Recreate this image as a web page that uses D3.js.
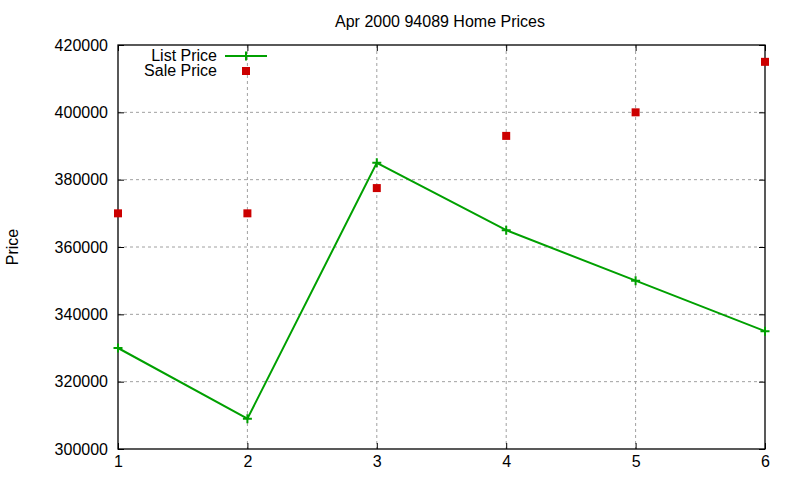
<!DOCTYPE html>
<html>
<head>
<meta charset="utf-8">
<script src="https://cdn.jsdelivr.net/npm/d3@7"></script>
<style>
  body { margin: 0; background: #fff; }
  text { font-family: "Liberation Sans", Arial, sans-serif; fill: #000; }
</style>
</head>
<body>
<svg id="chart"></svg>
<script>
// data
const months = [1, 2, 3, 4, 5, 6];
const listPrice = [330000, 309000, 385000, 365000, 350000, 335000];
const salePrice = [370000, 370000, 377500, 393000, 400000, 415000];
const yTicks = [300000, 320000, 340000, 360000, 380000, 400000, 420000];

const width = 800, height = 480;
const margin = { top: 45, right: 35, bottom: 31, left: 118 };
const innerW = width - margin.left - margin.right;
const innerH = height - margin.top - margin.bottom;
const fontSize = '16px';

const svg = d3.select('#chart')
    .attr('width', width)
    .attr('height', height);

const chart = svg.append('g')
    .attr('transform', `translate(${margin.left},${margin.top})`);

const xScale = d3.scaleLinear().domain([1, 6]).range([0, innerW]);
const yScale = d3.scaleLinear().domain([300000, 420000]).range([innerH, 0]);

// grid
chart.append('g').selectAll('line')
    .data(months.slice(1, -1))
    .join('line')
    .attr('x1', d => xScale(d)).attr('x2', d => xScale(d))
    .attr('y1', 0).attr('y2', innerH)
    .attr('stroke', '#a0a0a0').attr('stroke-dasharray', '3,3');

chart.append('g').selectAll('line')
    .data(yTicks.slice(1, -1))
    .join('line')
    .attr('x1', 0).attr('x2', innerW)
    .attr('y1', d => yScale(d)).attr('y2', d => yScale(d))
    .attr('stroke', '#a0a0a0').attr('stroke-dasharray', '3,3');

// axes (ticks pointing inward, mirrored)
const fmt = d3.format('d');
const axisStyle = g => {
    g.select('.domain').remove();
    g.selectAll('line').attr('stroke', '#000');
    g.selectAll('text').style('font-size', fontSize).style('font-family', '"Liberation Sans", Arial, sans-serif');
};

chart.append('g')
    .attr('transform', `translate(0,${innerH})`)
    .call(d3.axisBottom(xScale).tickValues(months).tickFormat(fmt).tickSizeInner(-6).tickPadding(7))
    .call(axisStyle);

chart.append('g')
    .call(d3.axisTop(xScale).tickValues(months).tickFormat('').tickSizeInner(-6))
    .call(axisStyle);

chart.append('g')
    .call(d3.axisLeft(yScale).tickValues(yTicks).tickFormat(fmt).tickSizeInner(-6).tickPadding(10))
    .call(axisStyle);

chart.append('g')
    .attr('transform', `translate(${innerW},0)`)
    .call(d3.axisRight(yScale).tickValues(yTicks).tickFormat('').tickSizeInner(-6))
    .call(axisStyle);

// border
chart.append('rect')
    .attr('width', innerW).attr('height', innerH)
    .attr('fill', 'none').attr('stroke', '#000').attr('stroke-width', 1.3);

// list price line
const listData = months.map((m, i) => ({ x: m, y: listPrice[i] }));
const line = d3.line().x(d => xScale(d.x)).y(d => yScale(d.y));

chart.append('path')
    .datum(listData)
    .attr('fill', 'none')
    .attr('stroke', '#00a000')
    .attr('stroke-width', 2)
    .attr('d', line);

chart.selectAll('.plus')
    .data(listData)
    .join('path')
    .attr('class', 'plus')
    .attr('transform', d => `translate(${xScale(d.x)},${yScale(d.y)})`)
    .attr('d', 'M-4.5,0H4.5M0,-4.5V4.5')
    .attr('stroke', '#00a000')
    .attr('stroke-width', 2);

// sale price points
chart.selectAll('.sale')
    .data(months.map((m, i) => ({ x: m, y: salePrice[i] })))
    .join('rect')
    .attr('class', 'sale')
    .attr('x', d => xScale(d.x) - 4)
    .attr('y', d => yScale(d.y) - 4)
    .attr('width', 8).attr('height', 8)
    .attr('fill', '#cc0000');

// legend
const legend = svg.append('g').attr('transform', 'translate(217,56)');
legend.append('text')
    .attr('text-anchor', 'end').attr('dy', '0.32em')
    .style('font-size', fontSize)
    .text('List Price');
legend.append('line')
    .attr('x1', 8).attr('x2', 50)
    .attr('stroke', '#00a000').attr('stroke-width', 2);
legend.append('path')
    .attr('transform', 'translate(29,0)')
    .attr('d', 'M-4.5,0H4.5M0,-4.5V4.5')
    .attr('stroke', '#00a000').attr('stroke-width', 2);
legend.append('text')
    .attr('y', 15).attr('text-anchor', 'end').attr('dy', '0.32em')
    .style('font-size', fontSize)
    .text('Sale Price');
legend.append('rect')
    .attr('x', 25).attr('y', 11)
    .attr('width', 8).attr('height', 8)
    .attr('fill', '#cc0000');

// title
svg.append('text')
    .attr('x', 440).attr('y', 27)
    .attr('text-anchor', 'middle')
    .style('font-size', fontSize)
    .text('Apr 2000 94089 Home Prices');

// y label
svg.append('text')
    .attr('transform', 'translate(18,247) rotate(-90)')
    .attr('text-anchor', 'middle')
    .style('font-size', fontSize)
    .text('Price');
</script>
</body>
</html>
